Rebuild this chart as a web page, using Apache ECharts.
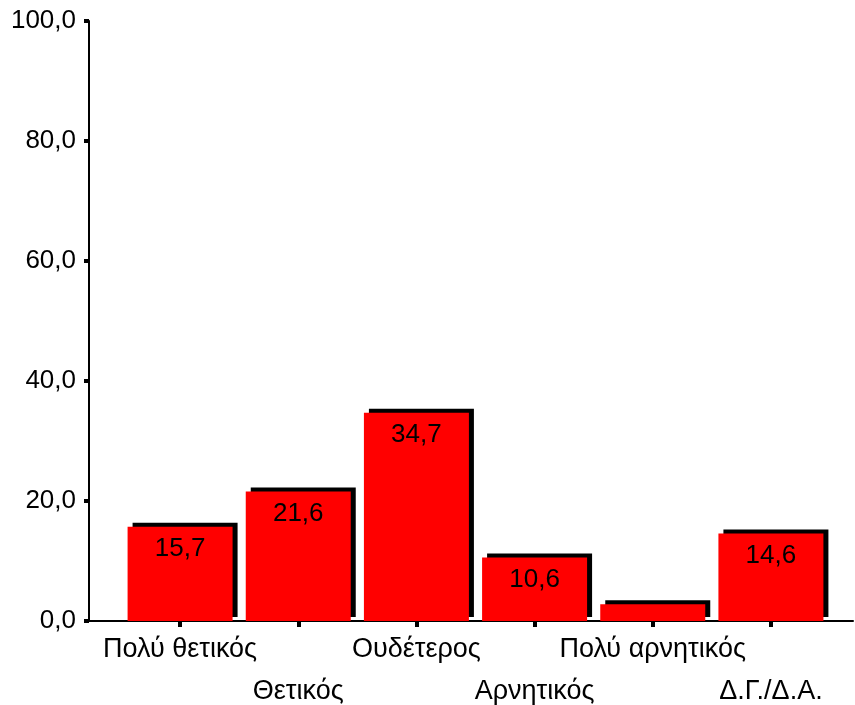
<!DOCTYPE html>
<html>
<head>
<meta charset="utf-8">
<script src="https://cdn.jsdelivr.net/npm/echarts@6/dist/echarts.min.js"></script>
<style>
  html, body { margin: 0; padding: 0; background: #fff; }
  #chart { width: 855px; height: 705px; }
</style>
</head>
<body>
<div id="chart"></div>
<script>
// data
var categories = ['Πολύ θετικός', 'Θετικός', 'Ουδέτερος', 'Αρνητικός', 'Πολύ αρνητικός', 'Δ.Γ./Δ.Α.']
var values = [15.7, 21.6, 34.7, 10.6, 2.8, 14.6]
var yMin = 0
var yMax = 100
var yStep = 20

var fmt = function (v) {
  return v.toFixed(1).replace('.', ',')
}

var black = '#000'
var chart = echarts.init(document.getElementById('chart'))
chart.setOption({
  animation: false,
  textStyle: { fontFamily: 'Liberation Sans, Arial, sans-serif' },
  // grid 0 carries the visible axis frame, grid 1 the category bands
  grid: [
    { left: 89, right: 2, top: 21, bottom: 84, outerBoundsMode: 'none' },
    { left: 121, width: 709, top: 21, bottom: 84, outerBoundsMode: 'none' }
  ],
  xAxis: [{
    gridIndex: 0,
    type: 'value',
    min: 0,
    max: 1,
    splitLine: { show: false },
    axisTick: { show: false },
    axisLabel: { show: false },
    axisLine: { onZero: false, lineStyle: { color: black, width: 2 } }
  }, {
    gridIndex: 1,
    type: 'category',
    data: categories,
    axisLine: { show: false },
    axisTick: {
      show: true,
      alignWithLabel: true,
      interval: 0,
      length: 6,
      lineStyle: { color: black, width: 4 }
    },
    axisLabel: {
      interval: 0,
      margin: 8,
      color: black,
      fontSize: 27,
      lineHeight: 42,
      formatter: function (v, i) {
        return i % 2 ? '\n' + v : v
      }
    }
  }],
  yAxis: [{
    gridIndex: 0,
    type: 'value',
    min: yMin,
    max: yMax,
    interval: yStep,
    splitLine: { show: false },
    axisLine: { show: true, onZero: false, lineStyle: { color: black, width: 2 } },
    axisTick: { show: true, length: 5, lineStyle: { color: black, width: 4 } },
    axisLabel: {
      margin: 13,
      color: black,
      fontSize: 26,
      formatter: fmt
    }
  }, {
    gridIndex: 1,
    type: 'value',
    min: yMin,
    max: yMax,
    interval: yStep,
    show: false
  }],
  series: [{
    type: 'bar',
    xAxisIndex: 1,
    yAxisIndex: 1,
    barWidth: 105,
    data: values,
    itemStyle: {
      color: '#ff0000',
      borderWidth: 0,
      shadowColor: black,
      shadowBlur: 0,
      shadowOffsetX: 5,
      shadowOffsetY: -4
    },
    label: {
      show: true,
      position: 'insideTop',
      distance: 9,
      color: black,
      fontSize: 26,
      formatter: function (p) {
        return p.value < 5 ? '' : fmt(p.value)
      }
    }
  }]
})
</script>
</body>
</html>
